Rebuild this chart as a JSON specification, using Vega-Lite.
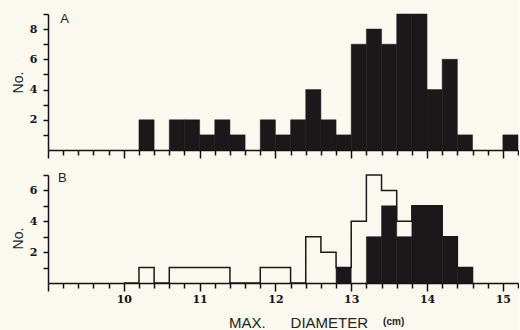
{
  "$schema": "https://vega.github.io/schema/vega-lite/v6.json",
  "autosize": {"type": "pad"},
  "padding": {"left": 11, "top": 8, "right": 0, "bottom": 0},
  "background": "#fbf8f0",
  "spacing": 25,
  "bounds": "flush",
  "config": {
    "view": {"stroke": null},
    "axis": {
      "grid": false,
      "labelOverlap": false,
      "tickCount": 100,
      "domainColor": "#151112",
      "domainWidth": 1.5,
      "tickColor": "#151112",
      "tickWidth": 1.5,
      "labelFont": "DejaVu Serif",
      "labelFontWeight": "bold",
      "labelFontSize": 11,
      "labelColor": "#151112",
      "titleFont": "Liberation Sans",
      "titleFontWeight": "normal",
      "titleFontSize": 14,
      "titleColor": "#222222"
    }
  },
  "vconcat": [
    {
      "width": 470,
      "height": 136,
      "data": {"values": [
        {"lo": 10.2, "hi": 10.4, "n": 2},
        {"lo": 10.6, "hi": 10.8, "n": 2},
        {"lo": 10.8, "hi": 11.0, "n": 2},
        {"lo": 11.0, "hi": 11.2, "n": 1},
        {"lo": 11.2, "hi": 11.4, "n": 2},
        {"lo": 11.4, "hi": 11.6, "n": 1},
        {"lo": 11.8, "hi": 12.0, "n": 2},
        {"lo": 12.0, "hi": 12.2, "n": 1},
        {"lo": 12.2, "hi": 12.4, "n": 2},
        {"lo": 12.4, "hi": 12.6, "n": 4},
        {"lo": 12.6, "hi": 12.8, "n": 2},
        {"lo": 12.8, "hi": 13.0, "n": 1},
        {"lo": 13.0, "hi": 13.2, "n": 7},
        {"lo": 13.2, "hi": 13.4, "n": 8},
        {"lo": 13.4, "hi": 13.6, "n": 7},
        {"lo": 13.6, "hi": 13.8, "n": 9},
        {"lo": 13.8, "hi": 14.0, "n": 9},
        {"lo": 14.0, "hi": 14.2, "n": 4},
        {"lo": 14.2, "hi": 14.4, "n": 6},
        {"lo": 14.4, "hi": 14.6, "n": 1},
        {"lo": 15.0, "hi": 15.2, "n": 1}
      ]},
      "layer": [
        {
          "mark": {"type": "rect", "color": "#1c1718", "stroke": "#1c1718", "strokeWidth": 0.5},
          "encoding": {
            "x": {
              "field": "lo", "type": "quantitative",
              "scale": {"domain": [9, 15.2], "nice": false, "zero": false},
              "axis": {
                "values": [9, 9.2, 9.4, 9.6, 9.8, 10, 10.2, 10.4, 10.6, 10.8, 11, 11.2, 11.4, 11.6, 11.8, 12, 12.2, 12.4, 12.6, 12.8, 13, 13.2, 13.4, 13.6, 13.8, 14, 14.2, 14.4, 14.6, 14.8, 15, 15.2],
                "tickCount": 100,
                "labels": false,
                "title": null,
                "tickSize": {"condition": {"test": "abs(datum.value - round(datum.value)) < 0.01", "value": 8}, "value": 5}
              }
            },
            "x2": {"field": "hi"},
            "y": {
              "field": "n", "type": "quantitative",
              "scale": {"domain": [0, 9], "nice": false},
              "axis": {
                "values": [1, 2, 3, 4, 5, 6, 7, 8, 9],
                "tickCount": 100,
                "labelExpr": "datum.value % 2 == 0 ? format(datum.value, 'd') : ''",
                "tickSize": 5,
                "labelPadding": 6,
                "title": "No.",
                "titlePadding": 4
              }
            },
            "y2": {"datum": 0}
          }
        },
        {
          "data": {"values": [{"label": "A"}]},
          "mark": {"type": "text", "font": "Liberation Sans", "fontSize": 13, "color": "#222222"},
          "encoding": {
            "x": {"datum": 9.22},
            "y": {"datum": 8.64},
            "text": {"field": "label"}
          }
        }
      ]
    },
    {
      "width": 470,
      "height": 108,
      "data": {"values": [
        {"lo": 10.0, "hi": 10.2, "total": 0, "black": 0},
        {"lo": 10.2, "hi": 10.4, "total": 1, "black": 0},
        {"lo": 10.4, "hi": 10.6, "total": 0, "black": 0},
        {"lo": 10.6, "hi": 10.8, "total": 1, "black": 0},
        {"lo": 10.8, "hi": 11.0, "total": 1, "black": 0},
        {"lo": 11.0, "hi": 11.2, "total": 1, "black": 0},
        {"lo": 11.2, "hi": 11.4, "total": 1, "black": 0},
        {"lo": 11.4, "hi": 11.6, "total": 0, "black": 0},
        {"lo": 11.6, "hi": 11.8, "total": 0, "black": 0},
        {"lo": 11.8, "hi": 12.0, "total": 1, "black": 0},
        {"lo": 12.0, "hi": 12.2, "total": 1, "black": 0},
        {"lo": 12.2, "hi": 12.4, "total": 0, "black": 0},
        {"lo": 12.4, "hi": 12.6, "total": 3, "black": 0},
        {"lo": 12.6, "hi": 12.8, "total": 2, "black": 0},
        {"lo": 12.8, "hi": 13.0, "total": 1, "black": 1},
        {"lo": 13.0, "hi": 13.2, "total": 4, "black": 0},
        {"lo": 13.2, "hi": 13.4, "total": 7, "black": 3},
        {"lo": 13.4, "hi": 13.6, "total": 6, "black": 5},
        {"lo": 13.6, "hi": 13.8, "total": 4, "black": 3},
        {"lo": 13.8, "hi": 14.0, "total": 5, "black": 5},
        {"lo": 14.0, "hi": 14.2, "total": 5, "black": 5},
        {"lo": 14.2, "hi": 14.4, "total": 3, "black": 3},
        {"lo": 14.4, "hi": 14.6, "total": 1, "black": 1},
        {"lo": 14.6, "hi": 14.8, "total": 0, "black": 0}
      ]},
      "layer": [
        {
          "transform": [{"filter": "datum.black > 0"}],
          "mark": {"type": "rect", "color": "#1c1718", "stroke": "#1c1718", "strokeWidth": 0.5},
          "encoding": {
            "x": {
              "field": "lo", "type": "quantitative",
              "scale": {"domain": [9, 15.2], "nice": false, "zero": false},
              "axis": {
                "values": [9, 9.2, 9.4, 9.6, 9.8, 10, 10.2, 10.4, 10.6, 10.8, 11, 11.2, 11.4, 11.6, 11.8, 12, 12.2, 12.4, 12.6, 12.8, 13, 13.2, 13.4, 13.6, 13.8, 14, 14.2, 14.4, 14.6, 14.8, 15, 15.2],
                "tickCount": 100,
                "labelExpr": "abs(datum.value - round(datum.value)) < 0.01 && datum.value > 9.5 ? format(datum.value, 'd') : ''",
                "labelPadding": 2,
                "tickSize": {"condition": {"test": "abs(datum.value - round(datum.value)) < 0.01", "value": 8}, "value": 5},
                "title": "MAX.\u00a0\u00a0\u00a0\u00a0\u00a0\u00a0DIAMETER",
                "titleFontSize": 15,
                "titleX": 250,
                "titleY": 44,
                "titleBaseline": "alphabetic"
              }
            },
            "x2": {"field": "hi"},
            "y": {
              "field": "black", "type": "quantitative",
              "scale": {"domain": [0, 7], "nice": false},
              "axis": {
                "values": [1, 2, 3, 4, 5, 6, 7],
                "tickCount": 100,
                "labelExpr": "datum.value % 2 == 0 ? format(datum.value, 'd') : ''",
                "tickSize": 5,
                "labelPadding": 6,
                "title": "No.",
                "titlePadding": 4,
                "titleY": 63
              }
            },
            "y2": {"datum": 0}
          }
        },
        {
          "mark": {"type": "line", "interpolate": "step-after", "color": "#1c1718", "strokeWidth": 1.5},
          "encoding": {
            "x": {"field": "lo", "type": "quantitative"},
            "y": {"field": "total", "type": "quantitative"}
          }
        },
        {
          "data": {"values": [{"label": "B"}]},
          "mark": {"type": "text", "font": "Liberation Sans", "fontSize": 13, "color": "#222222"},
          "encoding": {
            "x": {"datum": 9.19},
            "y": {"datum": 6.8},
            "text": {"field": "label"}
          }
        },
        {
          "data": {"values": [{"label": "(cm)"}]},
          "mark": {"type": "text", "font": "Liberation Sans", "fontSize": 10, "fontWeight": "bold", "color": "#222222", "baseline": "alphabetic"},
          "encoding": {
            "x": {"datum": 13.56},
            "y": {"datum": -2.7},
            "text": {"field": "label"}
          }
        }
      ]
    }
  ]
}
